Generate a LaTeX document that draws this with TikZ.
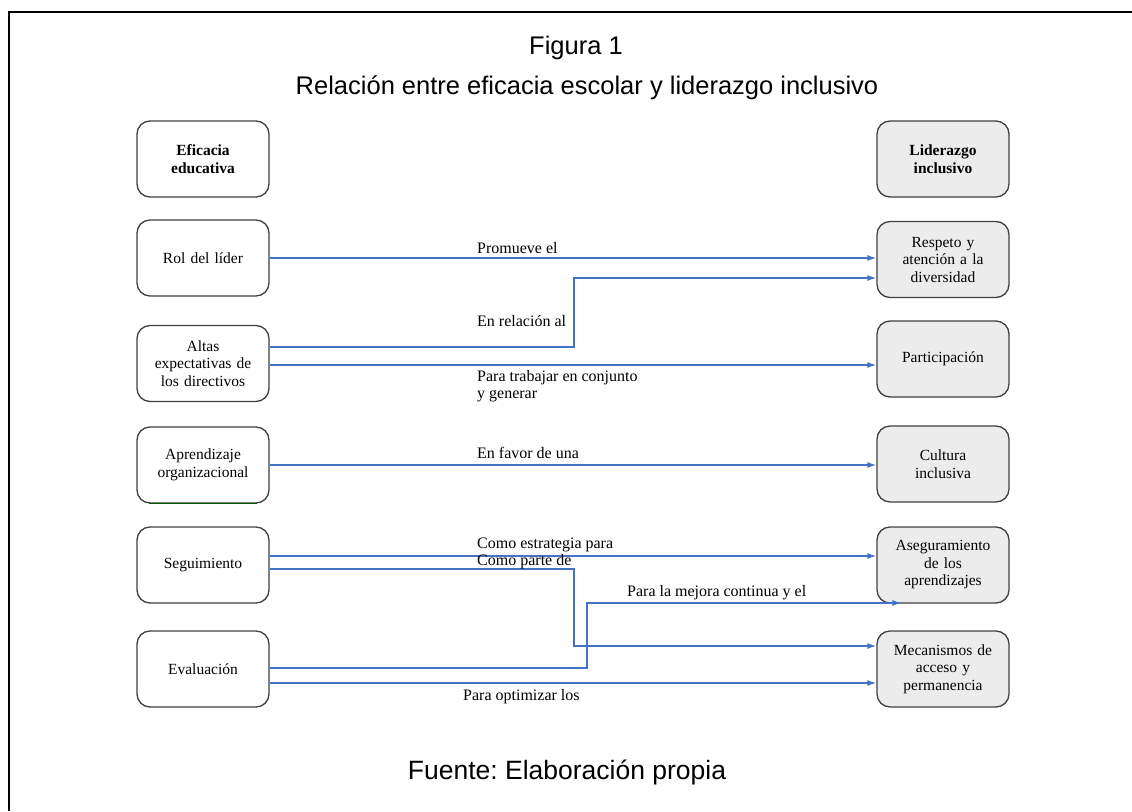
\documentclass[tikz,border=0pt]{standalone}
\usepackage{fontspec}
\setmainfont{Liberation Serif}
\setsansfont{Liberation Sans}
\usepackage{tikz}
\usetikzlibrary{positioning,arrows.meta}

\definecolor{lineblue}{HTML}{4472C4}
\definecolor{boxgray}{HTML}{ECECEC}
\definecolor{boxline}{HTML}{404040}

\begin{document}
\frenchspacing
\begin{tikzpicture}[
    x=1pt,y=-1pt,
    mybox/.style={
      draw=boxline,
      line width=1.3pt,
      rounded corners=13pt,
      minimum width=132pt,
      minimum height=76pt,
      text width=124pt,
      align=center,
      font=\fontsize{15.5}{17.5}\selectfont
    },
    leftbox/.style={mybox,fill=white},
    rightbox/.style={mybox,fill=boxgray},
    mylabel/.style={
      anchor=west,
      inner sep=0pt,
      align=left,
      font=\fontsize{16}{18}\selectfont
    },
    title/.style={font=\sffamily\fontsize{25.5}{28}\selectfont},
    link/.style={
      draw=lineblue,
      line width=1.3pt,
      -{Latex[length=9pt,width=6pt]}
    }
    ]
    \useasboundingbox (0,0) rectangle (1132,811);
    \draw[line width=2.5pt] (9,811) -- (9,12) -- (1132,12);

    \node[title] (fig) at (576,48) {Figura 1};
    \node[title] (head) at (587,88) {Relación entre eficacia escolar y liderazgo inclusivo};
    \node[title,font=\sffamily\fontsize{26.5}{28}\selectfont] (fuente) at (567,772) {Fuente: Elaboración propia};

    % left column
    \node[leftbox,font=\bfseries\fontsize{15.5}{17.5}\selectfont] (efic) at (203,159) {Eficacia\\educativa};
    \node[leftbox] (rol) at (203,258) {Rol del líder};
    \node[leftbox] (altas) at (203,363.5) {Altas\\expectativas de\\los directivos};
    \node[leftbox] (aprend) at (203,465) {Aprendizaje\\organizacional};
    \node[leftbox] (segui) at (203,565) {Seguimiento};
    \node[leftbox] (eval) at (203,669) {Evaluación};
    \draw[green!35!black,line width=1.3pt] ([xshift=13pt]aprend.south west) -- ([xshift=-13pt]aprend.south east);

    % right column
    \node[rightbox,font=\bfseries\fontsize{15.5}{17.5}\selectfont] (lider) at (943,159) {Liderazgo\\inclusivo};
    \node[rightbox] (resp) at (943,259.5) {Respeto y\\atención a la\\diversidad};
    \node[rightbox] (partic) at (943,359) {Participación};
    \node[rightbox] (cultura) at (943,464) {Cultura\\inclusiva};
    \node[rightbox] (aseg) at (943,565) {Aseguramiento\\de los\\aprendizajes};
    \node[rightbox] (mecan) at (943,669) {Mecanismos de\\acceso y\\permanencia};

    % ports and bends
    \coordinate (p1) at (rol.east);
    \coordinate (p2) at ([yshift=16.5pt]altas.east);
    \coordinate (p3) at ([yshift=-1.5pt]altas.east);
    \coordinate (p4) at (aprend.east);
    \coordinate (p5) at ([yshift=9pt]segui.east);
    \coordinate (p6) at ([yshift=-4pt]segui.east);
    \coordinate (p7) at ([yshift=1pt]eval.east);
    \coordinate (p8) at ([yshift=-14pt]eval.east);
    \coordinate (bend1) at (574,278);
    \coordinate (bend2) at (574,646);
    \coordinate (bend3) at (587,603);
    \coordinate (asegin) at ([xshift=25pt]aseg.south west |- bend3);

    \draw[link] (p1) -- (p1 -| resp.west);
    \draw[link] (p2) -| (bend1) -- (bend1 -| resp.west);
    \draw[link] (p3) -- (p3 -| partic.west);
    \draw[link] (p4) -- (p4 -| cultura.west);
    \draw[link] (p5) -- (p5 -| aseg.west);
    \draw[link] (p6) -| (bend2) -- (bend2 -| mecan.west);
    \draw[link] (p7) -| (bend3) -- (asegin);
    \draw[link] (p8) -- (p8 -| mecan.west);

    % labels
    \node[mylabel] (l1) at (477,248) {Promueve el};
    \node[mylabel,font=\fontsize{16}{17.5}\selectfont] (l3) at (477,386) {Para trabajar en conjunto\\y generar};
    \node[mylabel] (l2) at (477,321) {En relación al};
    \node[mylabel] (l4) at (477,453) {En favor de una};
    \node[mylabel] (l5) at (477,545) {Como estrategia para};
    \node[mylabel] (l6) at (477,562) {Como parte de};
    \node[mylabel] (l7) at (627,593) {Para la mejora continua y el};
    \node[mylabel] (l8) at (463,697) {Para optimizar los};
    
    \end{tikzpicture}
\end{document}
